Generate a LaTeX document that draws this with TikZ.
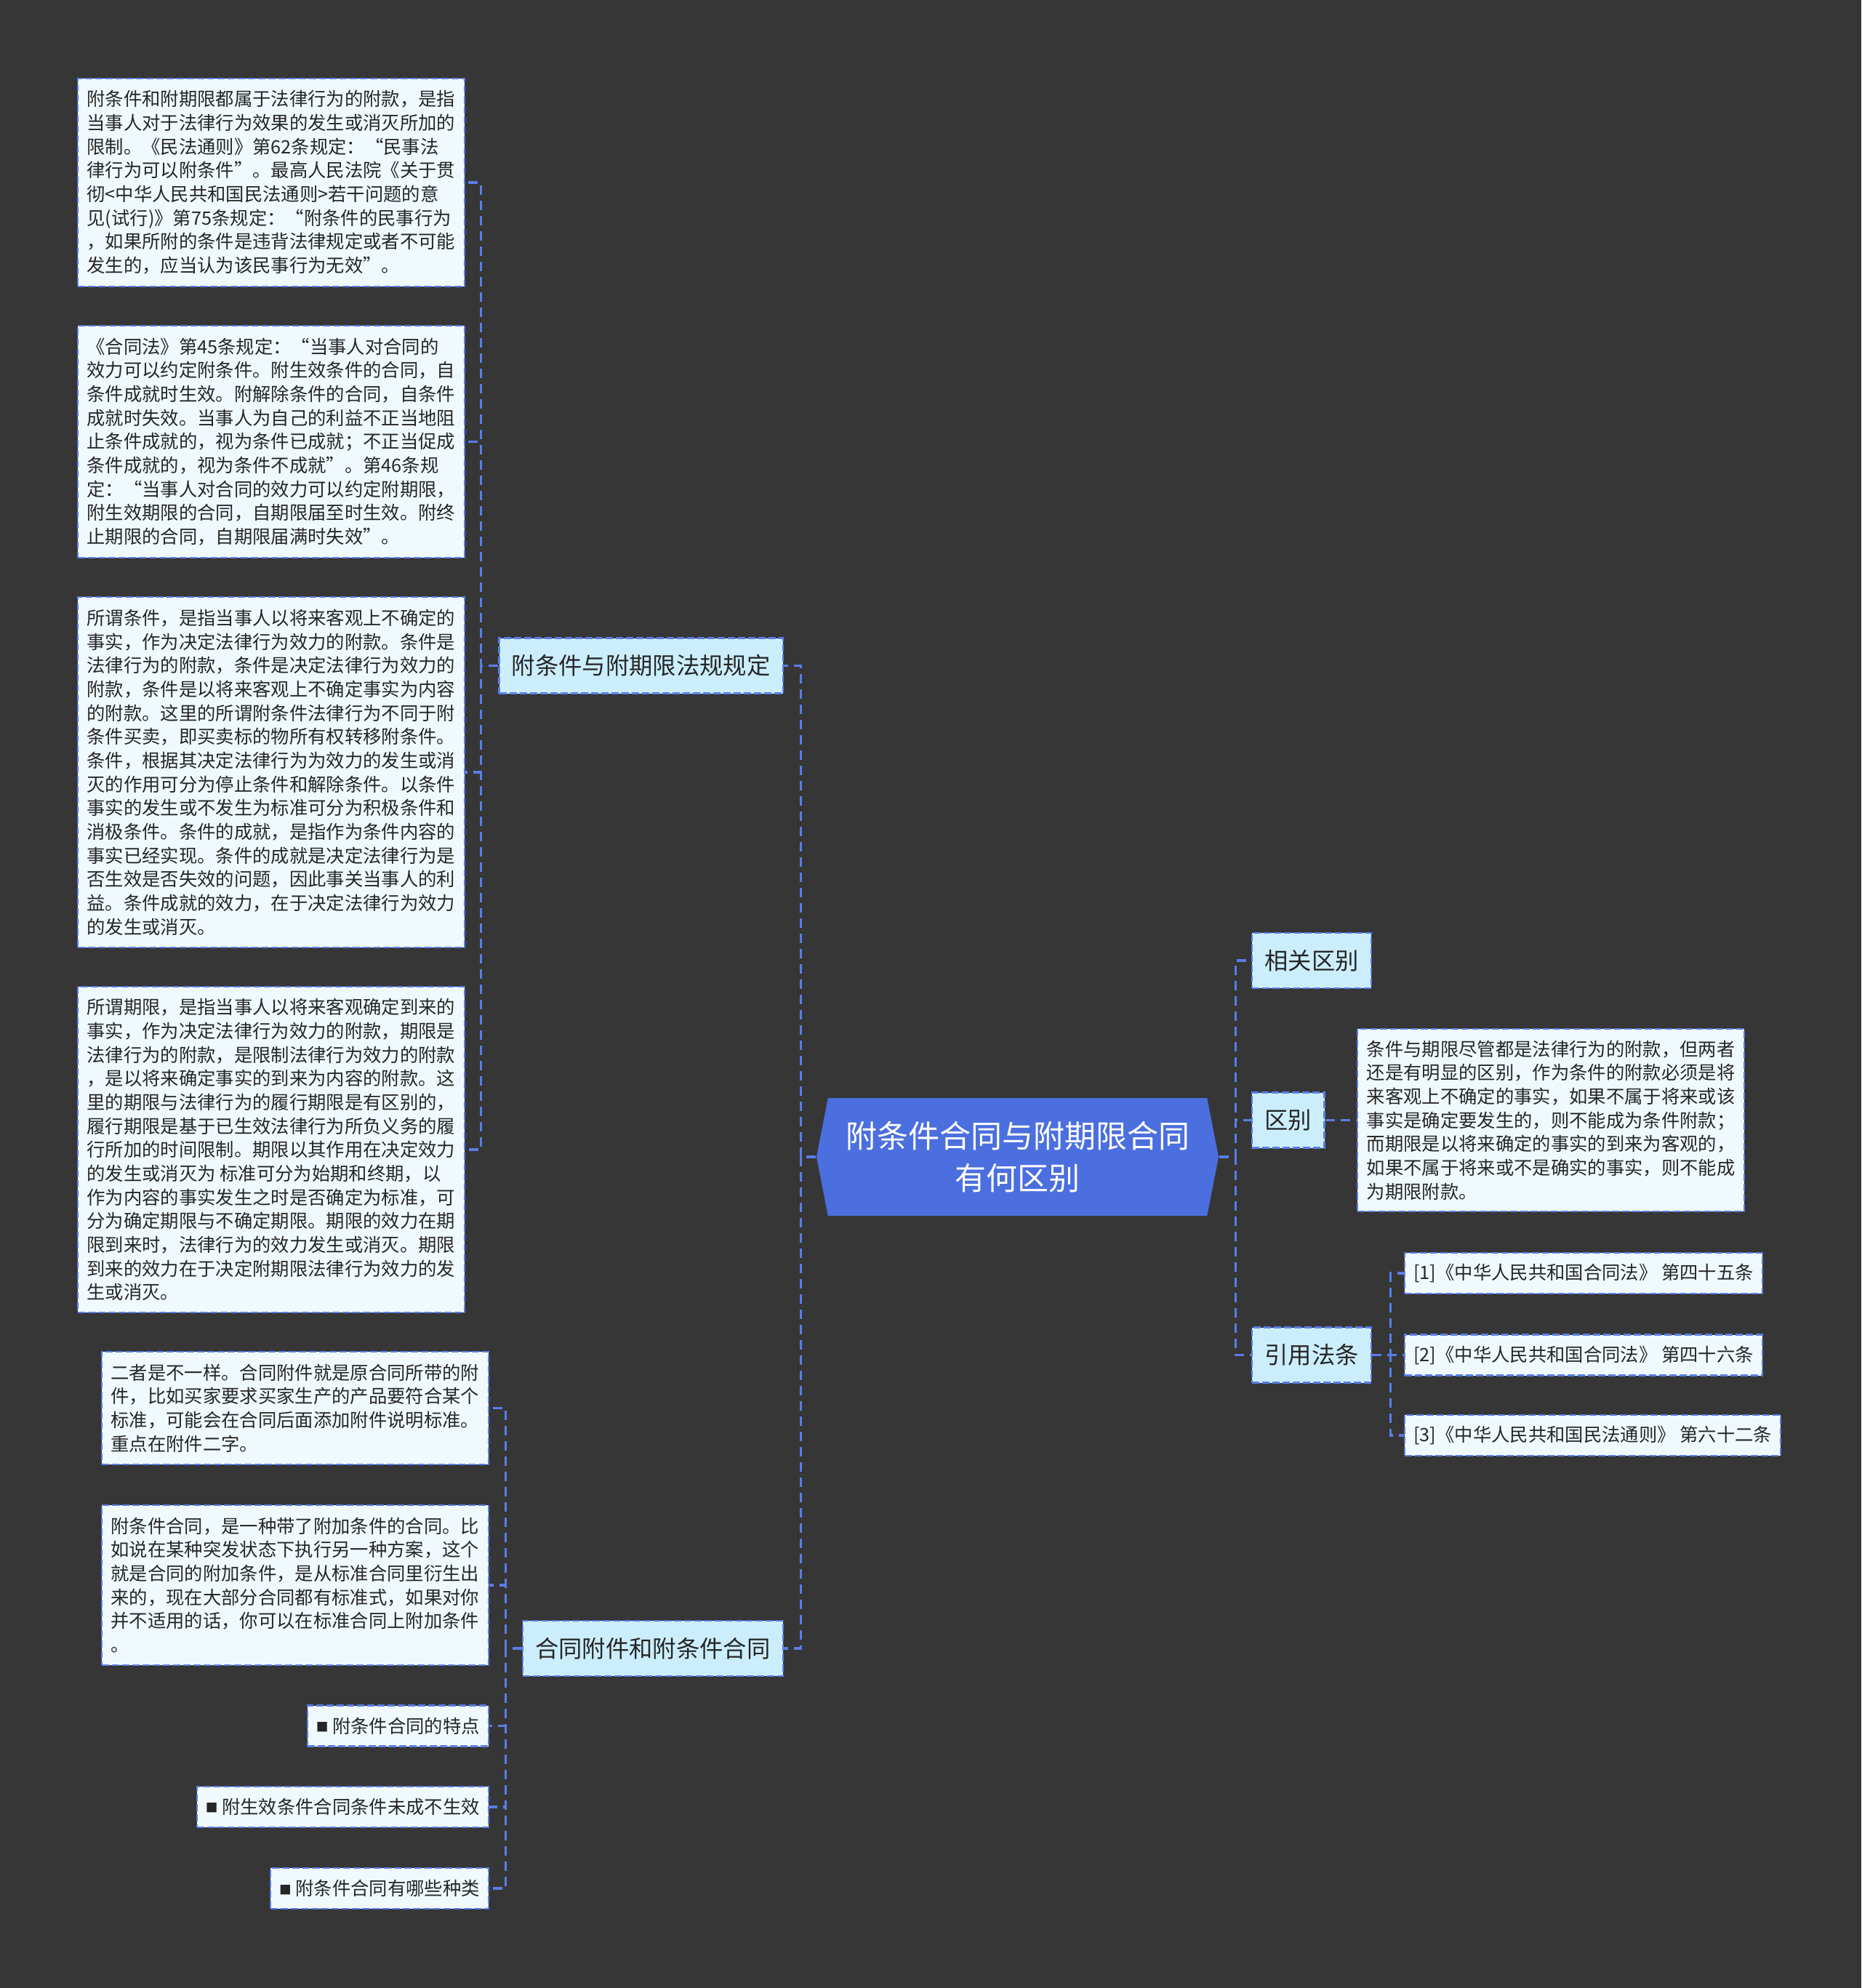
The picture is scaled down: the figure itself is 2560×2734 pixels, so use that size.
\documentclass[tikz,border=0pt]{standalone}
\usepackage{fontspec}
\setmainfont{Noto Sans CJK SC}
\usetikzlibrary{shapes.symbols}
\definecolor{colfondo}{HTML}{363636}
\definecolor{colazul}{HTML}{4B6FDE}
\definecolor{collinea}{HTML}{5A7DE8}
\definecolor{colhoja}{HTML}{F0FAFE}
\definecolor{colrama}{HTML}{CCEEFC}
\definecolor{coltexto}{HTML}{262626}
\newcommand{\cuadro}{\raisebox{0.5pt}{\fontsize{5pt}{5pt}\selectfont ■}}

\begin{document}
\begin{tikzpicture}[x=0.3pt,y=-0.3pt,
  conector/.style={draw=collinea,line width=0.95pt,dash pattern=on 3.9pt off 2.4pt},
  caja/.style={draw=collinea,line width=0.7pt,dash pattern=on 3pt off 1.2pt,text=coltexto,inner sep=0pt},
  hoja/.style={caja,fill=colhoja,align=left,font=\fontsize{7.6pt}{9.8pt}\selectfont,minimum width=159.6pt},
  corta/.style={caja,fill=colhoja,font=\fontsize{7.6pt}{9.8pt}\selectfont,inner xsep=3.6pt,minimum height=16.8pt},
  rama/.style={caja,fill=colrama,font=\fontsize{9.7pt}{11pt}\selectfont,inner xsep=5.2pt,minimum height=22.8pt},
  central/.style={signal,signal to=west and east,signal pointer angle=158,fill=colazul,text=white,align=center,
    font=\fontsize{12.9pt}{17.25pt}\selectfont,minimum width=165.9pt,minimum height=48.6pt,inner sep=0pt}]
  % fondo
  \fill[colfondo] (0,0) rectangle (2560,2734);
  \useasboundingbox (0,0) rectangle (2560,2734);
  % nodo central
  \node[central] (c) at (1399.5,1591) {附条件合同与附期限合同\\有何区别};
  % ramas izquierdas
  \node[rama,anchor=east] (b1) at (1078,915.5) {附条件与附期限法规规定};
  \node[rama,anchor=east] (b2) at (1078,2267) {合同附件和附条件合同};
  % hojas de la rama 1
  \node[hoja,anchor=east,minimum height=85.8pt] (h1) at (640,251) {附条件和附期限都属于法律行为的附款，是指\\当事人对于法律行为效果的发生或消灭所加的\\限制。《民法通则》第62条规定：“民事法\\律行为可以附条件”。最高人民法院《关于贯\\彻<中华人民共和国民法通则>若干问题的意\\见(试行)》第75条规定：“附条件的民事行为\\，如果所附的条件是违背法律规定或者不可能\\发生的，应当认为该民事行为无效”。};
  \node[hoja,anchor=east,minimum height=95.7pt] (h2) at (640,607.5) {《合同法》第45条规定：“当事人对合同的\\效力可以约定附条件。附生效条件的合同，自\\条件成就时生效。附解除条件的合同，自条件\\成就时失效。当事人为自己的利益不正当地阻\\止条件成就的，视为条件已成就；不正当促成\\条件成就的，视为条件不成就”。第46条规\\定：“当事人对合同的效力可以约定附期限，\\附生效期限的合同，自期限届至时生效。附终\\止期限的合同，自期限届满时失效”。};
  \node[hoja,anchor=east,minimum height=144.6pt] (h3) at (640,1062) {所谓条件，是指当事人以将来客观上不确定的\\事实，作为决定法律行为效力的附款。条件是\\法律行为的附款，条件是决定法律行为效力的\\附款，条件是以将来客观上不确定事实为内容\\的附款。这里的所谓附条件法律行为不同于附\\条件买卖，即买卖标的物所有权转移附条件。\\条件，根据其决定法律行为为效力的发生或消\\灭的作用可分为停止条件和解除条件。以条件\\事实的发生或不发生为标准可分为积极条件和\\消极条件。条件的成就，是指作为条件内容的\\事实已经实现。条件的成就是决定法律行为是\\否生效是否失效的问题，因此事关当事人的利\\益。条件成就的效力，在于决定法律行为效力\\的发生或消灭。};
  \node[hoja,anchor=east,minimum height=134.4pt] (h4) at (640,1581) {所谓期限，是指当事人以将来客观确定到来的\\事实，作为决定法律行为效力的附款，期限是\\法律行为的附款，是限制法律行为效力的附款\\，是以将来确定事实的到来为内容的附款。这\\里的期限与法律行为的履行期限是有区别的，\\履行期限是基于已生效法律行为所负义务的履\\行所加的时间限制。期限以其作用在决定效力\\的发生或消灭为 标准可分为始期和终期，以\\作为内容的事实发生之时是否确定为标准，可\\分为确定期限与不确定期限。期限的效力在期\\限到来时，法律行为的效力发生或消灭。期限\\到来的效力在于决定附期限法律行为效力的发\\生或消灭。};
  % hojas de la rama 2
  \node[hoja,anchor=east,minimum height=46.5pt] (h5) at (673,1936.5) {二者是不一样。合同附件就是原合同所带的附\\件，比如买家要求买家生产的产品要符合某个\\标准，可能会在合同后面添加附件说明标准。\\重点在附件二字。};
  \node[hoja,anchor=east,minimum height=66pt] (h6) at (673,2180) {附条件合同，是一种带了附加条件的合同。比\\如说在某种突发状态下执行另一种方案，这个\\就是合同的附加条件，是从标准合同里衍生出\\来的，现在大部分合同都有标准式，如果对你\\并不适用的话，你可以在标准合同上附加条件\\。};
  \node[corta,anchor=east] (h7) at (673,2373.5) {\cuadro\ 附条件合同的特点};
  \node[corta,anchor=east] (h8) at (673,2485) {\cuadro\ 附生效条件合同条件未成不生效};
  \node[corta,anchor=east] (h9) at (673,2597) {\cuadro\ 附条件合同有哪些种类};
  % ramas derechas
  \node[rama,anchor=west] (r1) at (1721,1321) {相关区别};
  \node[rama,anchor=west] (r2) at (1721,1540.5) {区别};
  \node[rama,anchor=west] (r3) at (1721,1863.5) {引用法条};
  \node[hoja,anchor=west,minimum height=75.3pt] (d) at (1866,1540.5) {条件与期限尽管都是法律行为的附款，但两者\\还是有明显的区别，作为条件的附款必须是将\\来客观上不确定的事实，如果不属于将来或该\\事实是确定要发生的，则不能成为条件附款；\\而期限是以将来确定的事实的到来为客观的，\\如果不属于将来或不是确实的事实，则不能成\\为期限附款。};
  \node[corta,anchor=west] (f1) at (1931,1751) {[1]《中华人民共和国合同法》 第四十五条};
  \node[corta,anchor=west] (f2) at (1931,1863.5) {[2]《中华人民共和国合同法》 第四十六条};
  \node[corta,anchor=west] (f3) at (1931,1974) {[3]《中华人民共和国民法通则》 第六十二条};
  % conectores
  \foreach \n in {b1,b2} \draw[conector] (c.west) -- ++(-21,0) |- (\n.east);
  \foreach \n in {h1,h2,h3,h4} \draw[conector] (b1.west) -- ++(-24,0) |- (\n.east);
  \foreach \n in {h5,h6,h7,h8,h9} \draw[conector] (b2.west) -- ++(-22,0) |- (\n.east);
  \foreach \n in {r1,r2,r3} \draw[conector] (c.east) -- ++(23,0) |- (\n.west);
  \draw[conector] (r2.east) -- (d.west);
  \foreach \n in {f1,f2,f3} \draw[conector] (r3.east) -- ++(25,0) |- (\n.west);
\end{tikzpicture}
\end{document}
